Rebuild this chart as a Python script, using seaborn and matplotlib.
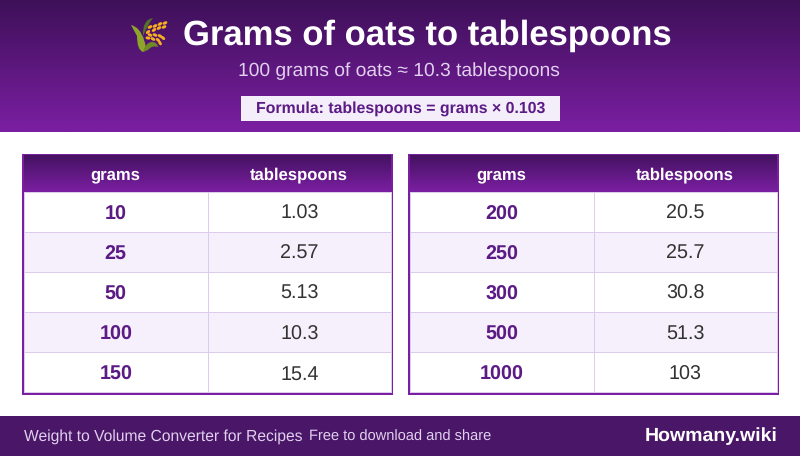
import numpy as np
import pandas as pd
import matplotlib
matplotlib.use("Agg")
import matplotlib.pyplot as plt
import seaborn as sns
from matplotlib.colors import LinearSegmentedColormap, ListedColormap
from matplotlib.patches import Rectangle, Ellipse, PathPatch
from matplotlib.path import Path

title = "Grams of oats to tablespoons"
subtitle = "100 grams of oats ≈ 10.3 tablespoons"
formula = "Formula: tablespoons = grams × 0.103"
footer_left = "Weight to Volume Converter for Recipes"
footer_mid = "Free to download and share"
footer_right = "Howmany.wiki"
col_names = ["grams", "tablespoons"]

grams_left = ["10", "25", "50", "100", "150"]
tbsp_left = ["1.03", "2.57", "5.13", "10.3", "15.4"]
grams_right = ["200", "250", "300", "500", "1000"]
tbsp_right = ["20.5", "25.7", "30.8", "51.3", "103"]
zebra = [0, 1, 0, 1, 0]

DARK = "#3d1058"
PURPLE = "#7b1fa2"
FOOT = "#4a1668"
INK = "#5b1a85"
GRID = "#dccbec"

sns.set_theme(style="white")
plt.rcParams["font.family"] = ["Liberation Sans", "DejaVu Sans"]
plt.rcParams["text.hinting"] = "no_hinting"

W, H = 800, 456
# the small extra keeps 4.56 * 100 from truncating to 455 pixels
fig = plt.figure(figsize=(W / 100, (H + 0.01) / 100), dpi=100)
ax = fig.add_axes([0, 0, 1, 1])
ax.axis("off")

grad = LinearSegmentedColormap.from_list("band", [DARK, PURPLE])
ramp = np.linspace(0, 1, 132).reshape(-1, 1)


def gradient(x0, x1, y0, y1, low=0.0):
    cm = LinearSegmentedColormap.from_list("g", [grad(low), PURPLE])
    ax.imshow(ramp, cmap=cm, aspect="auto", extent=(x0, x1, y1, y0), zorder=3)


def curve(points, color):
    codes = [Path.MOVETO] + [Path.CURVE3] * (len(points) - 2) + [Path.CLOSEPOLY]
    if len(points) % 2 == 0:
        codes = [Path.MOVETO] + [Path.CURVE3] * (len(points) - 3) + [Path.LINETO, Path.CLOSEPOLY]
    ax.add_patch(PathPatch(Path(points, codes), fc=color, ec="none", zorder=4))


def draw_sheaf():
    # small stand-in for the rice emoji
    curve([(153, 18), (142, 20), (143, 36), (148, 24), (153, 18)], "#55702a")
    curve([(143, 36), (141, 44), (141, 51), (146, 47), (143, 36)], "#55702a")
    curve([(131, 25), (140, 27), (144, 40), (148, 50), (143, 52), (137, 50), (137, 36), (131, 25)], "#8fa42a")
    curve([(143, 52), (146, 42), (152, 42), (157, 42), (158, 47), (152, 45), (148, 50), (143, 52)], "#6f8a25")
    for x, y, ang in [(150, 27, -30), (155, 26, -30), (160, 24, -30), (165, 23, -25),
                      (148, 32, -35), (154, 30, -35), (159, 28, -30), (164, 27, -25),
                      (150, 35, 25), (155, 35, 25), (160, 36, 30), (163, 38, 40),
                      (148, 38, 10), (153, 39, 30), (158, 40, 40), (160, 43, 60)]:
        ax.add_patch(Ellipse((x, y), 5.0, 3.0, angle=ang, fc="#f9b01e", ec="none", zorder=5))


gradient(0, W, 0, 132)
draw_sheaf()

ax.text(427, 45, title, color="white", fontsize=24.9, fontweight="bold",
        ha="center", va="baseline", zorder=6)
ax.text(399, 76, subtitle, color="#e1d0ee", fontsize=13.9, ha="center", va="baseline", zorder=6)
ax.add_patch(Rectangle((241, 96), 319, 25, fc="#f3eefa", ec="none", zorder=4))
ax.text(400.5, 113, formula, color=INK, fontsize=11.4, fontweight="bold",
        ha="center", va="baseline", zorder=6)

ax.add_patch(Rectangle((0, 416), W, 40, fc=FOOT, ec="none", zorder=2))
ax.text(24, 441, footer_left, color="#e1d0ee", fontsize=11.25, ha="left", va="baseline", zorder=6)
ax.text(309, 441, footer_mid, color="#e1d0ee", fontsize=10.5, ha="left", va="baseline", zorder=6)
ax.text(778, 441, footer_right, color="white", fontsize=14.0, fontweight="bold",
        ha="right", va="baseline", zorder=6)


def draw_table(left, grams, tbsp):
    # outer frame, then header band, then seaborn grid for the rows
    top, right, bottom = 154, left + 371, 395
    ax.add_patch(Rectangle((left + 1, top + 1), 369, bottom - top - 2, fc="white",
                           ec=PURPLE, lw=1.44, zorder=2))
    gradient(left + 2, right - 2, top + 2, 192, low=0.12)
    centers = [left + 2 + 91, left + 2 + 274.5]
    # "grams" has no ascenders, so it lands a little high without the nudge
    for cx, name, base in zip(centers, col_names, [179.7, 179]):
        ax.text(cx, base, name, color="white", fontsize=12.0, fontweight="bold",
                ha="center", va="baseline", zorder=6)
    sub = fig.add_axes([(left + 2) / W, 1 - 392.5 / H, 367 / W, 200.5 / H])
    frame = pd.DataFrame({"g": zebra, "t": zebra})
    labels = np.array([grams, tbsp]).T
    sns.heatmap(frame, ax=sub, cmap=ListedColormap(["white", "#f5f0fb"]), vmin=0, vmax=1,
                cbar=False, annot=labels, fmt="", linewidths=0.72, linecolor=GRID,
                xticklabels=False, yticklabels=False,
                annot_kws={"fontsize": 14.2, "color": "#333333"})
    for t in sub.texts:
        x, y = t.get_position()
        t.set_va("baseline")
        t.set_position((x, y + 0.175))
    for t in sub.texts[0::2]:
        x, y = t.get_position()
        t.set_position((x, y + 0.015))
        t.set_color(INK)
        t.set_fontweight("bold")
    for side in ["left", "right", "bottom"]:
        sub.spines[side].set_visible(True)
        sub.spines[side].set_color(GRID)
        sub.spines[side].set_linewidth(0.72)


draw_table(22, grams_left, tbsp_left)
draw_table(408, grams_right, tbsp_right)
ax.set_xlim(0, W)
ax.set_ylim(H, 0)

fig.savefig("out.png", dpi=100)
